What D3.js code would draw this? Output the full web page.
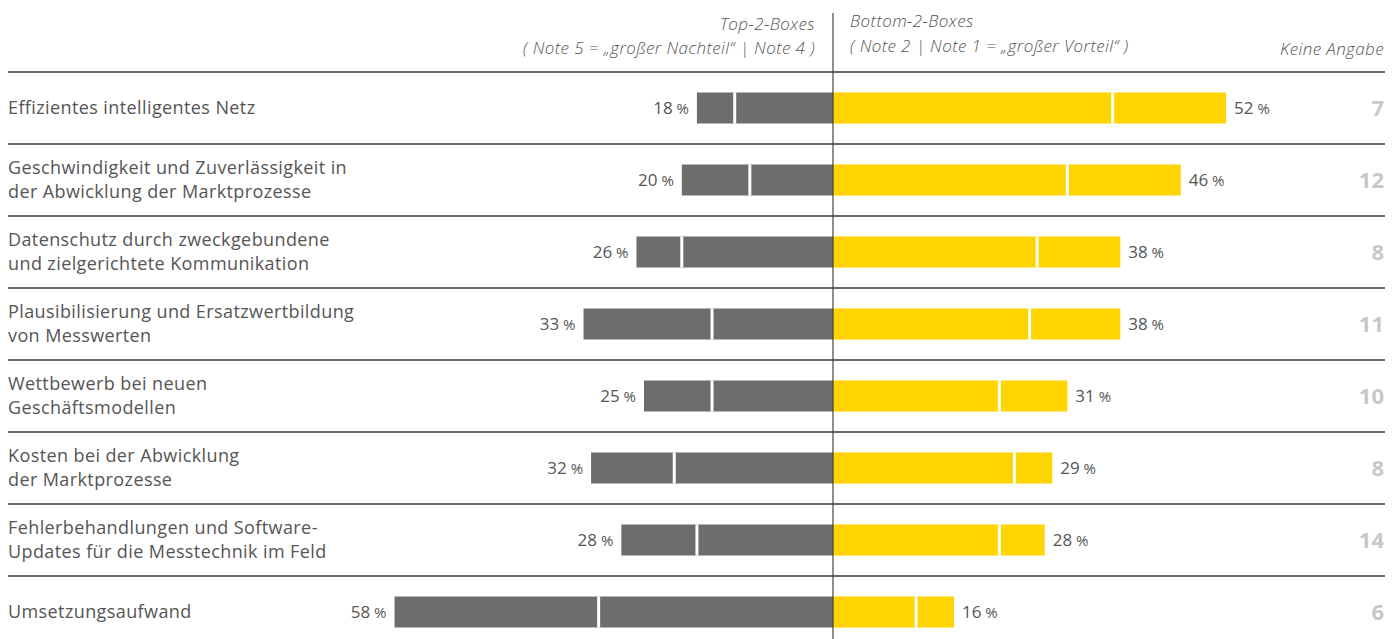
<!DOCTYPE html>
<html>
<head>
<meta charset="utf-8">
<script src="https://cdn.jsdelivr.net/npm/d3@7"></script>
<style>
  body { margin: 0; background: #fff; }
  svg { display: block; font-family: "Open Sans", Roboto, sans-serif; }
</style>
</head>
<body>
<div id="chart"></div>
<script>
const width = 1399;
const height = 639;

// Data
const categories = [
    ["Effizientes intelligentes Netz"],
    ["Geschwindigkeit und Zuverlässigkeit in", "der Abwicklung der Marktprozesse"],
    ["Datenschutz durch zweckgebundene", "und zielgerichtete Kommunikation"],
    ["Plausibilisierung und Ersatzwertbildung", "von Messwerten"],
    ["Wettbewerb bei neuen", "Geschäftsmodellen"],
    ["Kosten bei der Abwicklung", "der Marktprozesse"],
    ["Fehlerbehandlungen und Software-", "Updates für die Messtechnik im Feld"],
    ["Umsetzungsaufwand"]
];
const note5 = [5, 9, 6, 17, 9, 11, 10, 27];
const note4 = [13, 11, 20, 16, 16, 21, 18, 31];
const note2 = [37, 31, 27, 26, 22, 24, 22, 11];
const note1 = [15, 15, 11, 12, 9, 5, 6, 5];
const keineAngabe = [7, 12, 8, 11, 10, 8, 14, 6];

const grey = "#6d6d6b";
const yellow = "#ffd400";

const svg = d3.select("#chart")
    .append("svg")
    .attr("width", width)
    .attr("height", height);

const rows = categories.map((c, i) => ({
    label: c,
    n5: note5[i], n4: note4[i], n2: note2[i], n1: note1[i],
    ka: keineAngabe[i],
    idx: i
}));

// scales
const x = d3.scaleLinear().domain([-60, 60]).range([379.4, 1286.6]);
const y = d3.scaleBand().domain(d3.range(rows.length)).range([72, 72 + 72 * rows.length]);
const barH = 31;

// header
const head = svg.append("g")
    .style("font-style", "italic")
    .style("font-weight", 300)
    .style("font-size", "17px")
    .style("letter-spacing", "0.4px")
    .attr("fill", "#555");
head.append("text").attr("x", 815).attr("y", 30).attr("text-anchor", "end").text("Top-2-Boxes");
head.append("text").attr("x", 815).attr("y", 54).attr("text-anchor", "end")
    .text("( Note 5 = „großer Nachteil“ | Note 4 )");
head.append("text").attr("x", 850).attr("y", 27).text("Bottom-2-Boxes");
head.append("text").attr("x", 850).attr("y", 52)
    .text("( Note 2 | Note 1 = „großer Vorteil“ )");
head.append("text").attr("x", 1384).attr("y", 55).attr("text-anchor", "end").text("Keine Angabe");

// row separators
svg.append("g").selectAll("line")
    .data(rows)
    .join("line")
    .attr("x1", 8)
    .attr("x2", 1385)
    .attr("y1", d => y(d.idx))
    .attr("y2", d => y(d.idx))
    .attr("stroke", "#6a6a6a")
    .attr("stroke-width", 2);

const row = svg.append("g").selectAll("g")
    .data(rows)
    .join("g")
    .attr("transform", d => `translate(0,${y(d.idx) + y.bandwidth() / 2})`);

// category labels
row.append("text")
    .attr("fill", "#555")
    .style("font-size", "18px")
    .style("letter-spacing", "0.4px")
    .each(function(d) {
        const t = d3.select(this);
        const n = d.label.length;
        d.label.forEach((line, j) => {
            t.append("tspan")
                .attr("x", 8)
                .attr("y", (j - (n - 1) / 2) * 24 + 6)
                .text(line);
        });
    });

// bars
const segs = d => [
    { x0: -(d.n5 + d.n4), x1: -d.n4, c: grey },
    { x0: -d.n4, x1: 0, c: grey },
    { x0: 0, x1: d.n2, c: yellow },
    { x0: d.n2, x1: d.n2 + d.n1, c: yellow }
];
row.selectAll("rect")
    .data(segs)
    .join("rect")
    .attr("x", s => x(s.x0))
    .attr("width", s => x(s.x1) - x(s.x0))
    .attr("y", -barH / 2)
    .attr("height", barH)
    .attr("fill", s => s.c);

// white dividers between segments
row.selectAll("line.div")
    .data(d => [-d.n4, d.n2])
    .join("line")
    .attr("class", "div")
    .attr("x1", v => x(v))
    .attr("x2", v => x(v))
    .attr("y1", -barH / 2)
    .attr("y2", barH / 2)
    .attr("stroke", "#fff")
    .attr("stroke-width", 3);

// value labels
function pct(sel) {
    sel.append("tspan").text(d => d.v);
    sel.append("tspan").style("font-size", "15px").text(" %");
}
row.append("text")
    .datum(d => ({ v: d.n5 + d.n4 }))
    .attr("x", d => x(-d.v) - 8)
    .attr("y", 6)
    .attr("text-anchor", "end")
    .attr("fill", "#555")
    .style("font-size", "17px")
    .call(pct);
row.append("text")
    .datum(d => ({ v: d.n2 + d.n1 }))
    .attr("x", d => x(d.v) + 8)
    .attr("y", 6)
    .attr("fill", "#555")
    .style("font-size", "17px")
    .call(pct);

// keine Angabe
row.append("text")
    .attr("x", 1384)
    .attr("y", 8)
    .attr("text-anchor", "end")
    .attr("fill", "#c8c8c8")
    .style("font-size", "22px")
    .style("font-weight", 700)
    .text(d => d.ka);

// center line
svg.append("line")
    .attr("x1", x(0))
    .attr("x2", x(0))
    .attr("y1", 13)
    .attr("y2", height)
    .attr("stroke", "#444")
    .attr("stroke-width", 1.2);
</script>
</body>
</html>
